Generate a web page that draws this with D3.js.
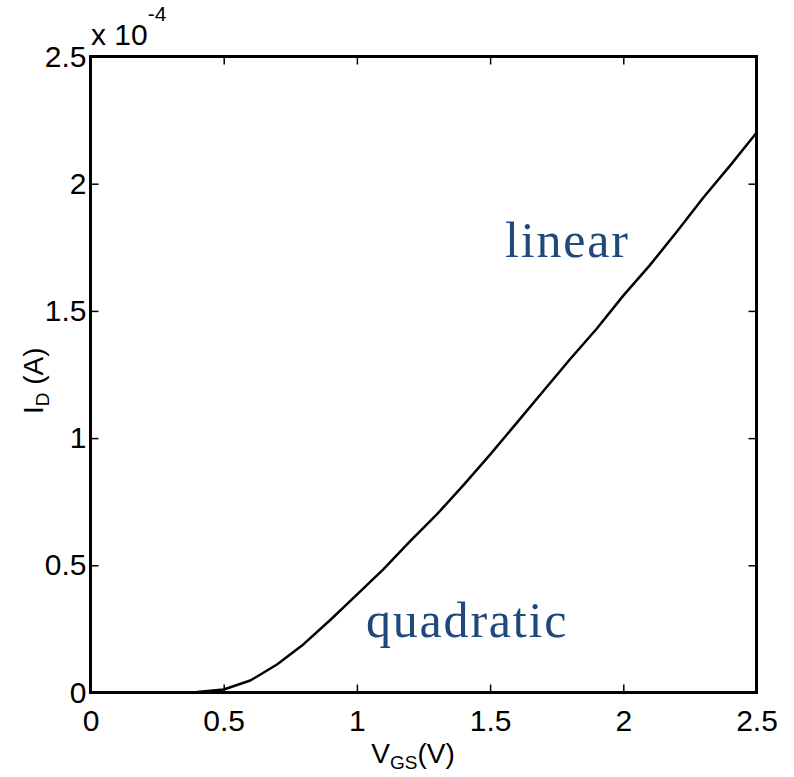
<!DOCTYPE html>
<html>
<head>
<meta charset="utf-8">
<script src="https://cdn.jsdelivr.net/npm/d3@7/dist/d3.min.js"></script>
<style>
  html, body { margin: 0; padding: 0; background: #fff; }
  svg { display: block; }
</style>
</head>
<body>
<svg id="chart" width="794" height="777"></svg>
<script>
// Drain current of the transistor versus gate-source voltage (units of 1e-4 A)
const vgs = [0, 0.1, 0.2, 0.3, 0.4, 0.5, 0.6, 0.7, 0.8, 0.9, 1.0, 1.1, 1.2, 1.3,
             1.4, 1.5, 1.6, 1.7, 1.8, 1.9, 2.0, 2.1, 2.2, 2.3, 2.4, 2.5];
const idScaled = [0, 0, 0, 0, 0.002, 0.012, 0.047, 0.11, 0.19, 0.285, 0.385, 0.485,
                  0.595, 0.70, 0.815, 0.935, 1.06, 1.185, 1.31, 1.43, 1.56, 1.68,
                  1.81, 1.945, 2.07, 2.20];
const xTicks = [0, 0.5, 1, 1.5, 2, 2.5];
const yTicks = [0, 0.5, 1, 1.5, 2, 2.5];
const regionLabels = ["linear", "quadratic"];

const svg = d3.select("#chart");
const plotLeft = 90.5, plotRight = 756.5, plotTop = 56.5, plotBottom = 692.5;

const x = d3.scaleLinear().domain([0, 2.5]).range([plotLeft, plotRight]);
const y = d3.scaleLinear().domain([0, 2.5]).range([plotBottom, plotTop]);

const tickFont = "'Liberation Sans', Arial, Helvetica, sans-serif";
const fmt = d => String(d);

function styleAxis(g, showLabels) {
  g.select(".domain").remove();
  g.selectAll(".tick line").attr("stroke", "#000").attr("stroke-width", 1.5);
  g.selectAll(".tick text")
    .attr("fill", "#000")
    .style("font-family", tickFont)
    .style("font-size", "30px");
  if (!showLabels) g.selectAll(".tick text").remove();
}

// bottom axis with labels, ticks pointing inward
svg.append("g")
  .attr("transform", `translate(0,${plotBottom})`)
  .call(d3.axisBottom(x).tickValues(xTicks).tickFormat(fmt)
        .tickSizeInner(-8).tickSizeOuter(0).tickPadding(17))
  .call(g => styleAxis(g, true));

// top axis: ticks only
svg.append("g")
  .attr("transform", `translate(0,${plotTop})`)
  .call(d3.axisTop(x).tickValues(xTicks).tickSizeInner(-8).tickSizeOuter(0))
  .call(g => styleAxis(g, false));

// left axis with labels
svg.append("g")
  .attr("transform", `translate(${plotLeft},0)`)
  .call(d3.axisLeft(y).tickValues(yTicks).tickFormat(fmt)
        .tickSizeInner(-8).tickSizeOuter(0).tickPadding(4))
  .call(g => styleAxis(g, true));

// right axis: ticks only
svg.append("g")
  .attr("transform", `translate(${plotRight},0)`)
  .call(d3.axisRight(y).tickValues(yTicks).tickSizeInner(-8).tickSizeOuter(0))
  .call(g => styleAxis(g, false));

// plot box
svg.append("rect")
  .attr("x", plotLeft).attr("y", plotTop)
  .attr("width", plotRight - plotLeft).attr("height", plotBottom - plotTop)
  .attr("fill", "none").attr("stroke", "#000").attr("stroke-width", 3);

// curve
const line = d3.line().x((d, i) => x(vgs[i])).y(d => y(d));
svg.append("path")
  .datum(idScaled)
  .attr("d", line)
  .attr("fill", "none")
  .attr("stroke", "#000")
  .attr("stroke-width", 2.5)
  .attr("stroke-linejoin", "round");

// exponent multiplier
const mult = svg.append("text")
  .attr("x", 91).attr("y", 45)
  .style("font-family", tickFont).style("font-size", "30px")
  .attr("fill", "#000");
mult.append("tspan").text("x 10");
mult.append("tspan").attr("dy", -24).style("font-size", "21px").text("-4");

// axis titles
const yt = svg.append("text")
  .attr("transform", "translate(43,414) rotate(-90)")
  .style("font-family", tickFont).style("font-size", "28px")
  .attr("fill", "#000");
yt.append("tspan").text("I");
yt.append("tspan").attr("dy", 6).style("font-size", "19px").text("D");
yt.append("tspan").attr("dy", -6).text(" (A)");

const xt = svg.append("text")
  .attr("x", 413).attr("y", 763)
  .attr("text-anchor", "middle")
  .style("font-family", tickFont).style("font-size", "28px")
  .attr("fill", "#000");
xt.append("tspan").text("V");
xt.append("tspan").attr("dy", 6).style("font-size", "19px").text("GS");
xt.append("tspan").attr("dy", -6).text("(V)");

// region annotations
const serif = "'Liberation Serif', 'Times New Roman', serif";
svg.append("text")
  .attr("x", 505).attr("y", 257)
  .style("font-family", serif).style("font-size", "50px")
  .style("letter-spacing", "1.8px")
  .attr("fill", "#1F497D")
  .text(regionLabels[0]);
svg.append("text")
  .attr("x", 366).attr("y", 637)
  .style("font-family", serif).style("font-size", "50px")
  .style("letter-spacing", "1.8px")
  .attr("fill", "#1F497D")
  .text(regionLabels[1]);
</script>
</body>
</html>
